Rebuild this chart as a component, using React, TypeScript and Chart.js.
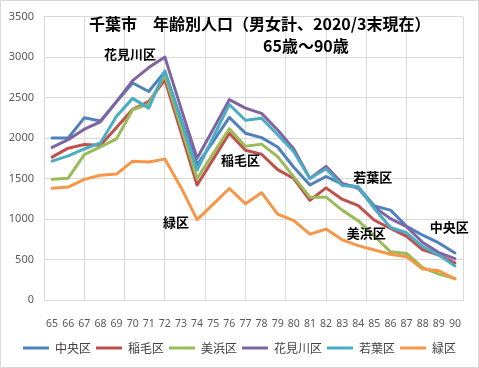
import React, { useEffect, useRef } from "react";
import { Chart, registerables } from "chart.js";

Chart.register(...registerables);

// ---- data ----
const ages = ["65","66","67","68","69","70","71","72","73","74","75","76","77","78","79","80","81","82","83","84","85","86","87","88","89","90"];

const chuo = [2000, 2000, 2250, 2210, 2450, 2680, 2575, 2820, 2240, 1670, 1960, 2255, 2060, 2005, 1890, 1640, 1420, 1525, 1430, 1395, 1160, 1110, 910, 800, 705, 580];
const inage = [1765, 1875, 1920, 1910, 2130, 2355, 2450, 2720, 2070, 1420, 1740, 2060, 1850, 1800, 1610, 1500, 1230, 1385, 1245, 1165, 985, 885, 785, 620, 555, 460];
const mihama = [1490, 1505, 1795, 1890, 1990, 2350, 2420, 2780, 2140, 1500, 1810, 2115, 1900, 1925, 1770, 1520, 1270, 1270, 1110, 980, 790, 595, 575, 400, 320, 265];
const hanamigawa = [1885, 1980, 2110, 2200, 2450, 2710, 2870, 3000, 2370, 1750, 2110, 2475, 2370, 2305, 2100, 1865, 1500, 1650, 1440, 1380, 1145, 1005, 905, 710, 585, 510];
const wakaba = [1715, 1780, 1865, 1940, 2270, 2490, 2370, 2830, 2220, 1605, 2010, 2415, 2220, 2245, 2040, 1830, 1500, 1620, 1415, 1400, 1130, 895, 830, 660, 555, 420];
const midori = [1380, 1395, 1490, 1540, 1555, 1715, 1705, 1740, 1390, 992, 1185, 1377, 1190, 1325, 1060, 980, 813, 876, 743, 672, 618, 565, 535, 382, 361, 261];

const seriesNames = ["中央区", "稲毛区", "美浜区", "花見川区", "若葉区", "緑区"];
const seriesValues = [chuo, inage, mihama, hanamigawa, wakaba, midori];
const seriesColors = ["#4F81BD", "#C0504D", "#9BBB59", "#8064A2", "#4BACC6", "#F79646"];

const titleLine1 = "千葉市　年齢別人口（男女計、2020/3末現在）";
const titleLine2 = "65歳～90歳";

// labels placed in data coordinates (category index, value)
const noteTexts = ["花見川区", "稲毛区", "緑区", "若葉区", "美浜区", "中央区"];
const noteIndex = [4.84, 11.7, 7.69, 19.9, 19.5, 24.64];
const noteValue = [3036, 1723, 964, 1515, 823, 904];

const yMin = 0;
const yMax = 3500;
const yStep = 500;

const decorPlugin = {
  id: "decor",
  beforeDraw(chart: any) {
    const ctx = chart.ctx;
    ctx.save();
    ctx.fillStyle = "#FFFFFF";
    ctx.fillRect(0, 0, chart.width, chart.height);
    ctx.strokeStyle = "#D9D9D9";
    ctx.lineWidth = 1;
    ctx.strokeRect(0.5, 0.5, chart.width - 1, chart.height - 1);
    ctx.restore();
  },
  afterDatasetsDraw(chart: any) {
    const ctx = chart.ctx;
    const xs = chart.scales.x;
    const ys = chart.scales.y;
    ctx.save();
    ctx.fillStyle = "#000000";
    ctx.textBaseline = "middle";
    ctx.font = "bold 16px 'Noto Sans CJK JP', sans-serif";
    ctx.textAlign = "left";
    ctx.fillText(titleLine1, 89, 24);
    ctx.fillText(titleLine2, 263, 46);
    ctx.font = "bold 13px 'Noto Sans CJK JP', sans-serif";
    ctx.textAlign = "center";
    for (let i = 0; i < noteTexts.length; i++) {
      const px = xs.getPixelForValue(noteIndex[i]);
      const py = ys.getPixelForValue(noteValue[i]);
      ctx.fillText(noteTexts[i], px, py);
    }
    ctx.restore();
  },
};

export default function App() {
  const canvasRef = useRef<HTMLCanvasElement | null>(null);

  useEffect(() => {
    if (!canvasRef.current) return;
    const datasets = seriesNames.map((name, i) => ({
      label: name,
      data: seriesValues[i],
      borderColor: seriesColors[i],
      backgroundColor: seriesColors[i],
      borderWidth: 3,
      pointRadius: 0,
      pointHoverRadius: 0,
      tension: 0,
      fill: false,
      borderJoinStyle: "round" as const,
      borderCapStyle: "round" as const,
      order: seriesNames.length - 1 - i,
      xAxisID: "x",
      yAxisID: "y",
    }));

    const chart = new Chart(canvasRef.current, {
      type: "line",
      data: { labels: ages, datasets },
      plugins: [decorPlugin],
      options: {
        responsive: false,
        animation: false,
        devicePixelRatio: 1,
        layout: { padding: { left: 0, right: 0, top: 14, bottom: 4 } },
        font: { family: "'Noto Sans', 'Noto Sans CJK JP', sans-serif" },
        scales: {
          x: {
            type: "category",
            position: "bottom",
            offset: true,
            grid: { display: false },
            border: { display: true, color: "#D9D9D9", width: 1 },
            ticks: {
              autoSkip: false,
              maxRotation: 0,
              minRotation: 0,
              padding: 10,
              color: "#595959",
              font: { size: 10.5, family: "'Noto Sans', sans-serif" },
            },
            afterFit: (scale: any) => {
              scale.height = 37;
            },
          },
          xg: {
            type: "linear",
            position: "bottom",
            min: 0,
            max: 26,
            grid: { display: true, color: "#D9D9D9", drawTicks: false },
            border: { display: false },
            ticks: { display: false, stepSize: 2.5 },
            afterFit: (scale: any) => {
              scale.height = 0;
            },
          },
          y: {
            type: "linear",
            position: "left",
            min: yMin,
            max: yMax,
            grid: { color: "#D9D9D9", drawTicks: false },
            border: { display: true, color: "#D9D9D9" },
            ticks: {
              stepSize: yStep,
              padding: 10,
              color: "#595959",
              font: { size: 11, family: "'Noto Sans', sans-serif" },
              callback: (v: any) => String(v),
            },
            afterFit: (scale: any) => {
              scale.width = 44;
            },
          },
          yr: {
            type: "linear",
            position: "right",
            min: 0,
            max: 1,
            grid: { display: false, drawTicks: false },
            border: { display: false },
            ticks: { display: false },
            afterFit: (scale: any) => {
              scale.width = 16;
            },
          },
        },
        plugins: {
          title: { display: false },
          tooltip: { enabled: false },
          legend: {
            display: true,
            position: "bottom",
            align: "center",
            labels: {
              boxWidth: 26,
              boxHeight: 3,
              padding: 5,
              color: "#404040",
              font: { size: 12, family: "'Noto Sans CJK JP', sans-serif" },
              generateLabels: () =>
                seriesNames.map((name, i) => ({
                  text: name,
                  fillStyle: seriesColors[i],
                  strokeStyle: seriesColors[i],
                  lineWidth: 0,
                  hidden: false,
                  datasetIndex: i,
                  fontColor: "#404040",
                })),
            },
          },
        },
      },
    } as any);

    return () => {
      chart.destroy();
    };
  }, []);

  return (
    <div style={{ position: "fixed", left: 0, top: 0, width: 479, height: 368 }}>
      <canvas ref={canvasRef} width={479} height={368} style={{ display: "block", width: 479, height: 368 }} />
    </div>
  );
}
